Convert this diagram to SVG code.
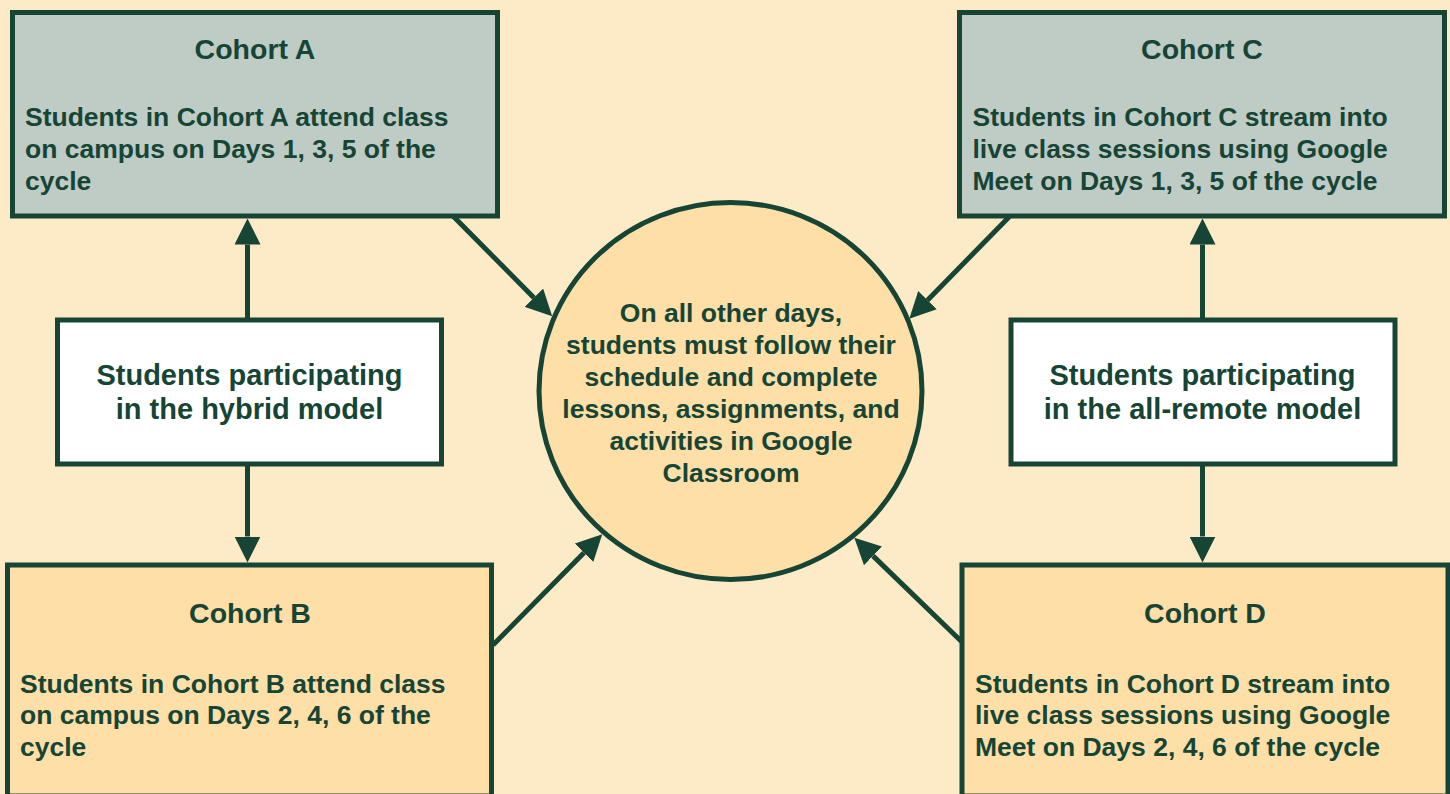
<svg xmlns="http://www.w3.org/2000/svg" width="1450" height="794" viewBox="0 0 1450 794">
<defs>
<style>
.bg{fill:#FDEBC8}
.box{stroke:#164535;stroke-width:5}
.grey{fill:#BFCBC5}
.peach{fill:#FDDFA7}
.white{fill:#FFFFFF}
.t{font-family:"Liberation Sans",Arial,Helvetica,sans-serif;font-weight:bold;fill:#164535}
.title{font-size:28.5px;text-anchor:middle}
.body{font-size:26.5px}
.mid{font-size:29px;text-anchor:middle}
.circ{font-size:26.5px;text-anchor:middle}
.conn{stroke:#164535;stroke-width:5;fill:none;marker-end:url(#ah)}
</style>
<marker id="ah" markerUnits="userSpaceOnUse" markerWidth="26" markerHeight="26" refX="0" refY="12.5" orient="auto" viewBox="0 0 25 25">
<path d="M0,0 L25,12.5 L0,25 z" fill="#164535"/>
</marker>
</defs>
<rect class="bg" x="0" y="0" width="1450" height="794"/>

<g id="connectors">
<line class="conn" x1="247.5" y1="320" x2="247.5" y2="244.5"/>
<line class="conn" x1="247.5" y1="464" x2="247.5" y2="536.5"/>
<line class="conn" x1="1202.5" y1="320" x2="1202.5" y2="244.5"/>
<line class="conn" x1="1202.5" y1="464" x2="1202.5" y2="536.5"/>
<line class="conn" x1="453" y1="216" x2="533.9" y2="297.7"/>
<line class="conn" x1="1010" y1="216" x2="927.5" y2="300.2"/>
<line class="conn" x1="493" y1="645" x2="584" y2="552.8"/>
<line class="conn" x1="962" y1="642" x2="873" y2="555.9"/>
</g>

<g id="cohortA">
<rect class="box grey" x="12.5" y="12.5" width="485" height="203.5"/>
<text class="t title" x="255" y="59">Cohort A</text>
<text class="t body" x="25" y="126">Students in Cohort A attend class</text>
<text class="t body" x="25" y="158">on campus on Days 1, 3, 5 of the</text>
<text class="t body" x="25" y="190">cycle</text>
</g>

<g id="cohortC">
<rect class="box grey" x="959.5" y="12.5" width="485" height="203.5"/>
<text class="t title" x="1202" y="59">Cohort C</text>
<text class="t body" x="972.5" y="126">Students in Cohort C stream into</text>
<text class="t body" x="972.5" y="158">live class sessions using Google</text>
<text class="t body" x="972.5" y="190">Meet on Days 1, 3, 5 of the cycle</text>
</g>

<g id="cohortB">
<rect class="box peach" x="7.5" y="565" width="484" height="231"/>
<text class="t title" x="250" y="623">Cohort B</text>
<text class="t body" x="20" y="692.5">Students in Cohort B attend class</text>
<text class="t body" x="20" y="724">on campus on Days 2, 4, 6 of the</text>
<text class="t body" x="20" y="755.5">cycle</text>
</g>

<g id="cohortD">
<rect class="box peach" x="962" y="565" width="486" height="231"/>
<text class="t title" x="1205" y="623">Cohort D</text>
<text class="t body" x="975" y="692.5">Students in Cohort D stream into</text>
<text class="t body" x="975" y="724">live class sessions using Google</text>
<text class="t body" x="975" y="755.5">Meet on Days 2, 4, 6 of the cycle</text>
</g>

<g id="hybrid">
<rect class="box white" x="57.5" y="320" width="384" height="144"/>
<text class="t mid" x="249.5" y="385">Students participating</text>
<text class="t mid" x="249.5" y="419">in the hybrid model</text>
</g>

<g id="remote">
<rect class="box white" x="1011" y="320" width="384" height="144"/>
<text class="t mid" x="1202.5" y="385">Students participating</text>
<text class="t mid" x="1202.5" y="419">in the all-remote model</text>
</g>

<g id="center">
<ellipse class="box peach" cx="730.5" cy="391" rx="191.5" ry="188.5"/>
<text class="t circ" x="731" y="321.5">On all other days,</text>
<text class="t circ" x="731" y="353.5">students must follow their</text>
<text class="t circ" x="731" y="385.5">schedule and complete</text>
<text class="t circ" x="731" y="417.5">lessons, assignments, and</text>
<text class="t circ" x="731" y="449.5">activities in Google</text>
<text class="t circ" x="731" y="481.5">Classroom</text>
</g>
</svg>
